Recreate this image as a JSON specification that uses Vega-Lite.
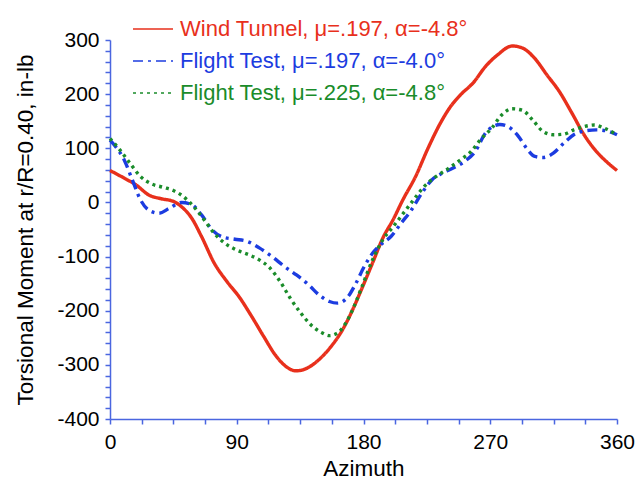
{
  "$schema": "https://vega.github.io/schema/vega-lite/v6.json",
  "width": 507,
  "height": 379,
  "autosize": {"type": "none"},
  "padding": {"left": 110, "top": 40, "right": 27, "bottom": 64},
  "background": "white",
  "config": {
    "view": {"stroke": null},
    "font": "Liberation Sans",
    "axis": {"grid": false, "labelFont": "Liberation Sans", "titleFont": "Liberation Sans", "labelColor": "black", "titleColor": "black", "titleFontWeight": "normal"}
  },
  "data": {
    "values": [
      {"s": "Wind Tunnel, μ=.197, α=-4.8°", "az": 0, "v": 59},
      {"s": "Wind Tunnel, μ=.197, α=-4.8°", "az": 10, "v": 45},
      {"s": "Wind Tunnel, μ=.197, α=-4.8°", "az": 18.7, "v": 32},
      {"s": "Wind Tunnel, μ=.197, α=-4.8°", "az": 27.4, "v": 14},
      {"s": "Wind Tunnel, μ=.197, α=-4.8°", "az": 36, "v": 7},
      {"s": "Wind Tunnel, μ=.197, α=-4.8°", "az": 45, "v": 2},
      {"s": "Wind Tunnel, μ=.197, α=-4.8°", "az": 50.8, "v": -8},
      {"s": "Wind Tunnel, μ=.197, α=-4.8°", "az": 58, "v": -29},
      {"s": "Wind Tunnel, μ=.197, α=-4.8°", "az": 65, "v": -63},
      {"s": "Wind Tunnel, μ=.197, α=-4.8°", "az": 74, "v": -112},
      {"s": "Wind Tunnel, μ=.197, α=-4.8°", "az": 83, "v": -146},
      {"s": "Wind Tunnel, μ=.197, α=-4.8°", "az": 91.6, "v": -174},
      {"s": "Wind Tunnel, μ=.197, α=-4.8°", "az": 100, "v": -208},
      {"s": "Wind Tunnel, μ=.197, α=-4.8°", "az": 109, "v": -247},
      {"s": "Wind Tunnel, μ=.197, α=-4.8°", "az": 118, "v": -284},
      {"s": "Wind Tunnel, μ=.197, α=-4.8°", "az": 126.6, "v": -306},
      {"s": "Wind Tunnel, μ=.197, α=-4.8°", "az": 132, "v": -311},
      {"s": "Wind Tunnel, μ=.197, α=-4.8°", "az": 140, "v": -306},
      {"s": "Wind Tunnel, μ=.197, α=-4.8°", "az": 148.5, "v": -290},
      {"s": "Wind Tunnel, μ=.197, α=-4.8°", "az": 157, "v": -266},
      {"s": "Wind Tunnel, μ=.197, α=-4.8°", "az": 164.5, "v": -238},
      {"s": "Wind Tunnel, μ=.197, α=-4.8°", "az": 171.8, "v": -201},
      {"s": "Wind Tunnel, μ=.197, α=-4.8°", "az": 179, "v": -158},
      {"s": "Wind Tunnel, μ=.197, α=-4.8°", "az": 186.4, "v": -112},
      {"s": "Wind Tunnel, μ=.197, α=-4.8°", "az": 193.7, "v": -66},
      {"s": "Wind Tunnel, μ=.197, α=-4.8°", "az": 201, "v": -32},
      {"s": "Wind Tunnel, μ=.197, α=-4.8°", "az": 208, "v": 5},
      {"s": "Wind Tunnel, μ=.197, α=-4.8°", "az": 217, "v": 48},
      {"s": "Wind Tunnel, μ=.197, α=-4.8°", "az": 225.8, "v": 100},
      {"s": "Wind Tunnel, μ=.197, α=-4.8°", "az": 234.5, "v": 146},
      {"s": "Wind Tunnel, μ=.197, α=-4.8°", "az": 241.8, "v": 177},
      {"s": "Wind Tunnel, μ=.197, α=-4.8°", "az": 249, "v": 199},
      {"s": "Wind Tunnel, μ=.197, α=-4.8°", "az": 257.9, "v": 221},
      {"s": "Wind Tunnel, μ=.197, α=-4.8°", "az": 266.6, "v": 251},
      {"s": "Wind Tunnel, μ=.197, α=-4.8°", "az": 275.4, "v": 273},
      {"s": "Wind Tunnel, μ=.197, α=-4.8°", "az": 285.6, "v": 289},
      {"s": "Wind Tunnel, μ=.197, α=-4.8°", "az": 293, "v": 285},
      {"s": "Wind Tunnel, μ=.197, α=-4.8°", "az": 301.6, "v": 266},
      {"s": "Wind Tunnel, μ=.197, α=-4.8°", "az": 310.4, "v": 235},
      {"s": "Wind Tunnel, μ=.197, α=-4.8°", "az": 319, "v": 205},
      {"s": "Wind Tunnel, μ=.197, α=-4.8°", "az": 328, "v": 165},
      {"s": "Wind Tunnel, μ=.197, α=-4.8°", "az": 336.6, "v": 125},
      {"s": "Wind Tunnel, μ=.197, α=-4.8°", "az": 345.4, "v": 94},
      {"s": "Wind Tunnel, μ=.197, α=-4.8°", "az": 352.7, "v": 75},
      {"s": "Wind Tunnel, μ=.197, α=-4.8°", "az": 360, "v": 59},

      {"s": "Flight Test, μ=.197, α=-4.0°", "az": 0, "v": 115},
      {"s": "Flight Test, μ=.197, α=-4.0°", "az": 4, "v": 103},
      {"s": "Flight Test, μ=.197, α=-4.0°", "az": 10, "v": 79},
      {"s": "Flight Test, μ=.197, α=-4.0°", "az": 15.8, "v": 42},
      {"s": "Flight Test, μ=.197, α=-4.0°", "az": 21.6, "v": 5},
      {"s": "Flight Test, μ=.197, α=-4.0°", "az": 27.4, "v": -14},
      {"s": "Flight Test, μ=.197, α=-4.0°", "az": 34.7, "v": -20},
      {"s": "Flight Test, μ=.197, α=-4.0°", "az": 42, "v": -11},
      {"s": "Flight Test, μ=.197, α=-4.0°", "az": 50.8, "v": 0},
      {"s": "Flight Test, μ=.197, α=-4.0°", "az": 58, "v": -4},
      {"s": "Flight Test, μ=.197, α=-4.0°", "az": 65, "v": -23},
      {"s": "Flight Test, μ=.197, α=-4.0°", "az": 72.6, "v": -51},
      {"s": "Flight Test, μ=.197, α=-4.0°", "az": 80, "v": -64},
      {"s": "Flight Test, μ=.197, α=-4.0°", "az": 88.7, "v": -68},
      {"s": "Flight Test, μ=.197, α=-4.0°", "az": 97.4, "v": -72},
      {"s": "Flight Test, μ=.197, α=-4.0°", "az": 106, "v": -84},
      {"s": "Flight Test, μ=.197, α=-4.0°", "az": 115, "v": -100},
      {"s": "Flight Test, μ=.197, α=-4.0°", "az": 123.7, "v": -118},
      {"s": "Flight Test, μ=.197, α=-4.0°", "az": 132.4, "v": -134},
      {"s": "Flight Test, μ=.197, α=-4.0°", "az": 141, "v": -152},
      {"s": "Flight Test, μ=.197, α=-4.0°", "az": 148.5, "v": -171},
      {"s": "Flight Test, μ=.197, α=-4.0°", "az": 155.8, "v": -183},
      {"s": "Flight Test, μ=.197, α=-4.0°", "az": 161.6, "v": -186},
      {"s": "Flight Test, μ=.197, α=-4.0°", "az": 169, "v": -174},
      {"s": "Flight Test, μ=.197, α=-4.0°", "az": 174.7, "v": -149},
      {"s": "Flight Test, μ=.197, α=-4.0°", "az": 180.6, "v": -118},
      {"s": "Flight Test, μ=.197, α=-4.0°", "az": 186.4, "v": -94},
      {"s": "Flight Test, μ=.197, α=-4.0°", "az": 192.2, "v": -78},
      {"s": "Flight Test, μ=.197, α=-4.0°", "az": 199.5, "v": -63},
      {"s": "Flight Test, μ=.197, α=-4.0°", "az": 206.8, "v": -38},
      {"s": "Flight Test, μ=.197, α=-4.0°", "az": 214, "v": -14},
      {"s": "Flight Test, μ=.197, α=-4.0°", "az": 221.4, "v": 17},
      {"s": "Flight Test, μ=.197, α=-4.0°", "az": 228.7, "v": 42},
      {"s": "Flight Test, μ=.197, α=-4.0°", "az": 236, "v": 54},
      {"s": "Flight Test, μ=.197, α=-4.0°", "az": 243.3, "v": 63},
      {"s": "Flight Test, μ=.197, α=-4.0°", "az": 252, "v": 76},
      {"s": "Flight Test, μ=.197, α=-4.0°", "az": 259.3, "v": 94},
      {"s": "Flight Test, μ=.197, α=-4.0°", "az": 266.6, "v": 128},
      {"s": "Flight Test, μ=.197, α=-4.0°", "az": 272.5, "v": 141},
      {"s": "Flight Test, μ=.197, α=-4.0°", "az": 276.8, "v": 144},
      {"s": "Flight Test, μ=.197, α=-4.0°", "az": 282.7, "v": 140},
      {"s": "Flight Test, μ=.197, α=-4.0°", "az": 290, "v": 122},
      {"s": "Flight Test, μ=.197, α=-4.0°", "az": 295.8, "v": 100},
      {"s": "Flight Test, μ=.197, α=-4.0°", "az": 301.6, "v": 85},
      {"s": "Flight Test, μ=.197, α=-4.0°", "az": 307.5, "v": 83},
      {"s": "Flight Test, μ=.197, α=-4.0°", "az": 314.8, "v": 91},
      {"s": "Flight Test, μ=.197, α=-4.0°", "az": 322, "v": 109},
      {"s": "Flight Test, μ=.197, α=-4.0°", "az": 329.3, "v": 125},
      {"s": "Flight Test, μ=.197, α=-4.0°", "az": 336.6, "v": 132},
      {"s": "Flight Test, μ=.197, α=-4.0°", "az": 345.4, "v": 134},
      {"s": "Flight Test, μ=.197, α=-4.0°", "az": 352.7, "v": 132},
      {"s": "Flight Test, μ=.197, α=-4.0°", "az": 360, "v": 125},

      {"s": "Flight Test, μ=.225, α=-4.8°", "az": 0, "v": 118},
      {"s": "Flight Test, μ=.225, α=-4.8°", "az": 7, "v": 97},
      {"s": "Flight Test, μ=.225, α=-4.8°", "az": 14.3, "v": 72},
      {"s": "Flight Test, μ=.225, α=-4.8°", "az": 21.6, "v": 48},
      {"s": "Flight Test, μ=.225, α=-4.8°", "az": 28.9, "v": 35},
      {"s": "Flight Test, μ=.225, α=-4.8°", "az": 37.6, "v": 28},
      {"s": "Flight Test, μ=.225, α=-4.8°", "az": 45, "v": 22},
      {"s": "Flight Test, μ=.225, α=-4.8°", "az": 52, "v": 11},
      {"s": "Flight Test, μ=.225, α=-4.8°", "az": 59.5, "v": -8},
      {"s": "Flight Test, μ=.225, α=-4.8°", "az": 66.8, "v": -32},
      {"s": "Flight Test, μ=.225, α=-4.8°", "az": 74, "v": -57},
      {"s": "Flight Test, μ=.225, α=-4.8°", "az": 81.4, "v": -75},
      {"s": "Flight Test, μ=.225, α=-4.8°", "az": 90, "v": -88},
      {"s": "Flight Test, μ=.225, α=-4.8°", "az": 98.9, "v": -97},
      {"s": "Flight Test, μ=.225, α=-4.8°", "az": 106, "v": -106},
      {"s": "Flight Test, μ=.225, α=-4.8°", "az": 113.5, "v": -121},
      {"s": "Flight Test, μ=.225, α=-4.8°", "az": 120.8, "v": -146},
      {"s": "Flight Test, μ=.225, α=-4.8°", "az": 128, "v": -177},
      {"s": "Flight Test, μ=.225, α=-4.8°", "az": 135.4, "v": -204},
      {"s": "Flight Test, μ=.225, α=-4.8°", "az": 142.6, "v": -226},
      {"s": "Flight Test, μ=.225, α=-4.8°", "az": 150, "v": -240},
      {"s": "Flight Test, μ=.225, α=-4.8°", "az": 155.8, "v": -246},
      {"s": "Flight Test, μ=.225, α=-4.8°", "az": 161.6, "v": -241},
      {"s": "Flight Test, μ=.225, α=-4.8°", "az": 167.4, "v": -223},
      {"s": "Flight Test, μ=.225, α=-4.8°", "az": 173.3, "v": -192},
      {"s": "Flight Test, μ=.225, α=-4.8°", "az": 179, "v": -155},
      {"s": "Flight Test, μ=.225, α=-4.8°", "az": 186.4, "v": -106},
      {"s": "Flight Test, μ=.225, α=-4.8°", "az": 193.7, "v": -69},
      {"s": "Flight Test, μ=.225, α=-4.8°", "az": 201, "v": -45},
      {"s": "Flight Test, μ=.225, α=-4.8°", "az": 208.3, "v": -20},
      {"s": "Flight Test, μ=.225, α=-4.8°", "az": 215.6, "v": 5},
      {"s": "Flight Test, μ=.225, α=-4.8°", "az": 222.9, "v": 29},
      {"s": "Flight Test, μ=.225, α=-4.8°", "az": 231.6, "v": 48},
      {"s": "Flight Test, μ=.225, α=-4.8°", "az": 240.4, "v": 63},
      {"s": "Flight Test, μ=.225, α=-4.8°", "az": 249, "v": 79},
      {"s": "Flight Test, μ=.225, α=-4.8°", "az": 256.4, "v": 94},
      {"s": "Flight Test, μ=.225, α=-4.8°", "az": 263.7, "v": 118},
      {"s": "Flight Test, μ=.225, α=-4.8°", "az": 271, "v": 137},
      {"s": "Flight Test, μ=.225, α=-4.8°", "az": 278.3, "v": 162},
      {"s": "Flight Test, μ=.225, α=-4.8°", "az": 285.6, "v": 173},
      {"s": "Flight Test, μ=.225, α=-4.8°", "az": 293, "v": 170},
      {"s": "Flight Test, μ=.225, α=-4.8°", "az": 300.2, "v": 152},
      {"s": "Flight Test, μ=.225, α=-4.8°", "az": 307.5, "v": 131},
      {"s": "Flight Test, μ=.225, α=-4.8°", "az": 314.8, "v": 125},
      {"s": "Flight Test, μ=.225, α=-4.8°", "az": 322, "v": 126},
      {"s": "Flight Test, μ=.225, α=-4.8°", "az": 329.3, "v": 134},
      {"s": "Flight Test, μ=.225, α=-4.8°", "az": 336.6, "v": 140},
      {"s": "Flight Test, μ=.225, α=-4.8°", "az": 344, "v": 143},
      {"s": "Flight Test, μ=.225, α=-4.8°", "az": 351, "v": 137},
      {"s": "Flight Test, μ=.225, α=-4.8°", "az": 360, "v": 125}
    ]
  },
  "mark": {"type": "line", "interpolate": "monotone", "strokeWidth": 3.4},
  "encoding": {
    "x": {
      "field": "az", "type": "quantitative",
      "scale": {"domain": [0, 360], "nice": false, "zero": false},
      "axis": {
        "title": "Azimuth",
        "values": [0, 22.5, 45, 67.5, 90, 112.5, 135, 157.5, 180, 202.5, 225, 247.5, 270, 292.5, 315, 337.5, 360],
        "labelExpr": "datum.value % 90 === 0 ? '' + datum.value : ''",
        "labelOverlap": false,
        "labelFlush": false,
        "labelFontSize": 21,
        "labelPadding": 7,
        "domainColor": "#4a66e0",
        "domainWidth": 1.5,
        "ticks": true,
        "tickColor": "#4a66e0",
        "tickOpacity": 1,
        "tickWidth": 1.5,
        "tickSize": 5,
        "titleFontSize": 22.5,
        "titleBaseline": "middle",
        "titleX": 253.5,
        "titleY": 49,
        "encode": {
          "ticks": {"update": {"y2": {"signal": "datum.value % 90 === 0 ? -7 : -4"}, "opacity": {"value": 1}}}
        }
      }
    },
    "y": {
      "field": "v", "type": "quantitative",
      "scale": {"domain": [-400, 300], "nice": false, "zero": false},
      "axis": {
        "title": "Torsional Moment at r/R=0.40, in-lb",
        "values": [-400, -380, -360, -340, -320, -300, -280, -260, -240, -220, -200, -180, -160, -140, -120, -100, -80, -60, -40, -20, 0, 20, 40, 60, 80, 100, 120, 140, 160, 180, 200, 220, 240, 260, 280, 300],
        "labelExpr": "datum.value % 100 === 0 ? '' + datum.value : ''",
        "labelOverlap": false,
        "labelFlush": false,
        "labelFontSize": 21,
        "labelPadding": 6,
        "domainColor": "#4a66e0",
        "domainWidth": 1.5,
        "ticks": true,
        "tickColor": "#4a66e0",
        "tickOpacity": 1,
        "tickWidth": 1.5,
        "tickSize": 5,
        "titleFontSize": 22.5,
        "titleBaseline": "middle",
        "titleX": -85,
        "titleY": 189.5,
        "encode": {
          "ticks": {"update": {"x2": {"signal": "datum.value % 100 === 0 ? 7 : 4"}, "opacity": {"value": 1}}}
        }
      }
    },
    "color": {
      "field": "s", "type": "nominal",
      "scale": {
        "domain": ["Wind Tunnel, μ=.197, α=-4.8°", "Flight Test, μ=.197, α=-4.0°", "Flight Test, μ=.225, α=-4.8°"],
        "range": ["#e8301c", "#1c3ce0", "#1a8c2a"]
      },
      "legend": {
        "title": null,
        "orient": "none",
        "legendX": 22,
        "legendY": -32,
        "symbolType": "stroke",
        "symbolSize": 1600,
        "symbolStrokeWidth": 1.5,
        "labelFontSize": 22,
        "labelFont": "Liberation Sans",
        "labelOffset": 6,
        "labelLimit": 500,
        "rowPadding": -1,
        "encode": {"labels": {"update": {"fill": {"scale": "color", "field": "value"}}}}
      }
    },
    "strokeDash": {
      "field": "s", "type": "nominal",
      "scale": {
        "domain": ["Wind Tunnel, μ=.197, α=-4.8°", "Flight Test, μ=.197, α=-4.0°", "Flight Test, μ=.225, α=-4.8°"],
        "range": [[1, 0], [10, 5, 3, 5], [3, 4]]
      },
      "legend": {
        "title": null,
        "orient": "none",
        "legendX": 22,
        "legendY": -32,
        "symbolType": "stroke",
        "symbolSize": 1600,
        "symbolStrokeWidth": 1.5,
        "labelFontSize": 22,
        "labelFont": "Liberation Sans",
        "labelOffset": 6,
        "labelLimit": 500,
        "rowPadding": -1,
        "encode": {"labels": {"update": {"fill": {"scale": "color", "field": "value"}}}}
      }
    }
  }
}
